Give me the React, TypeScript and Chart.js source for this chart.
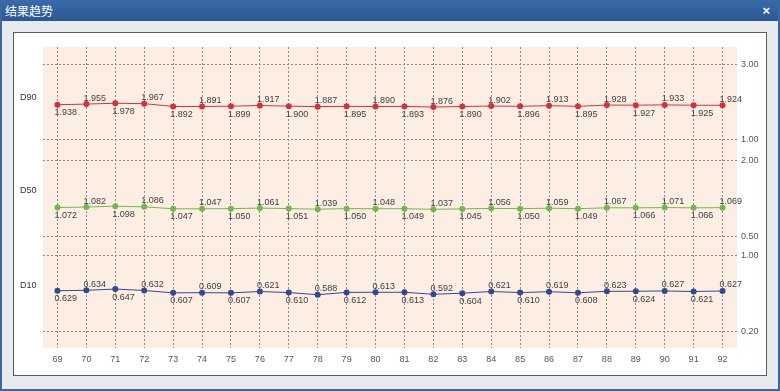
import React, { useEffect, useRef } from "react";
import { Chart, registerables } from "chart.js";

Chart.register(...registerables);

const title = "结果趋势";
const categories = ["69", "70", "71", "72", "73", "74", "75", "76", "77", "78", "79", "80", "81", "82", "83", "84", "85", "86", "87", "88", "89", "90", "91", "92"];
const seriesNames = ["D90", "D50", "D10"];
const d90 = [1.938, 1.955, 1.978, 1.967, 1.892, 1.891, 1.899, 1.917, 1.900, 1.887, 1.895, 1.890, 1.893, 1.876, 1.890, 1.902, 1.896, 1.913, 1.895, 1.928, 1.927, 1.933, 1.925, 1.924];
const d50 = [1.072, 1.082, 1.098, 1.086, 1.047, 1.047, 1.050, 1.061, 1.051, 1.039, 1.050, 1.048, 1.049, 1.037, 1.045, 1.056, 1.050, 1.059, 1.049, 1.067, 1.066, 1.071, 1.066, 1.069];
const d10 = [0.629, 0.634, 0.647, 0.632, 0.607, 0.609, 0.607, 0.621, 0.610, 0.588, 0.612, 0.613, 0.613, 0.592, 0.604, 0.621, 0.610, 0.619, 0.608, 0.623, 0.624, 0.627, 0.621, 0.627];
const d90Ticks = [1, 3];
const d50Ticks = [0.5, 2];
const d10Ticks = [0.2, 1];
const d90Range = [0.8, 3.48];
const d50Range = [0.28, 2.26];
const d10Range = [0.03, 1.08];

const FONT = '"Liberation Sans", Arial, sans-serif';
const nameFrac = [0.5, 0.43, 0.38];

const bgPlugin = {
  id: "peachBg",
  beforeDraw(chart: any) {
    const { ctx, chartArea } = chart;
    ctx.save();
    ctx.fillStyle = "#fdeee4";
    ctx.fillRect(chartArea.left, chartArea.top, chartArea.right - chartArea.left, chartArea.bottom - chartArea.top);
    ctx.restore();
  },
};

const labelPlugin = {
  id: "valueLabels",
  afterDatasetsDraw(chart: any) {
    const ctx = chart.ctx;
    ctx.save();
    ctx.font = `9px ${FONT}`;
    ctx.textAlign = "left";
    ctx.textBaseline = "middle";
    chart.data.datasets.forEach((ds: any, di: number) => {
      const meta = chart.getDatasetMeta(di);
      ctx.fillStyle = "#404040";
      meta.data.forEach((pt: any, i: number) => {
        const v = ds.data[i] as number;
        const dy = i % 2 === 0 ? 8 : -6;
        ctx.fillText(v.toFixed(3), pt.x - 3, pt.y + dy);
      });
      const scale = chart.scales[ds.yAxisID];
      ctx.fillStyle = "#333";
      ctx.fillText(ds.label, 6, scale.top + scale.height * nameFrac[di]);
    });
    ctx.restore();
  },
};

function yAxis(range: number[], ticks: number[]) {
  return {
    type: "linear",
    position: "right",
    stack: "panels",
    stackWeight: 1,
    min: range[0],
    max: range[1],
    afterBuildTicks: (s: any) => {
      s.ticks = ticks.map((v) => ({ value: v }));
    },
    afterFit: (s: any) => {
      s.width = 29;
    },
    grid: { color: "#8c8c8c", lineWidth: 1, drawTicks: false },
    border: { display: false, dash: [2, 2] },
    ticks: {
      padding: 4,
      color: "#555",
      font: { size: 9, family: FONT },
      callback: (v: any) => Number(v).toFixed(2),
    },
  };
}

export default function App() {
  const ref = useRef<HTMLCanvasElement>(null);
  useEffect(() => {
    if (!ref.current) return;
    const mk = (label: string, data: number[], color: string, axis: string) => ({
      label,
      data,
      yAxisID: axis,
      borderColor: color,
      backgroundColor: color,
      borderWidth: 1,
      pointRadius: 3,
      pointBorderWidth: 0,
      tension: 0,
    });
    const chart = new Chart(ref.current, {
      type: "line",
      data: {
        labels: categories,
        datasets: [
          mk(seriesNames[0], d90, "#d82f3a", "yD90"),
          mk(seriesNames[1], d50, "#72b84a", "yD50"),
          mk(seriesNames[2], d10, "#2f4a91", "yD10"),
        ],
      },
      options: {
        animation: false,
        responsive: true,
        maintainAspectRatio: false,
        layout: { padding: { left: 29, top: 14, right: 0, bottom: 0 } },
        plugins: { legend: { display: false }, tooltip: { enabled: false } },
        scales: {
          x: {
            type: "category",
            offset: true,
            afterFit: (s: any) => {
              s.height = 27;
            },
            grid: { offset: false, color: "#8c8c8c", lineWidth: 1, drawTicks: false },
            border: { display: false, dash: [2, 2] },
            ticks: { padding: 6, color: "#555", font: { size: 9, family: FONT }, maxRotation: 0, autoSkip: false },
          },
          yD90: yAxis(d90Range, d90Ticks),
          yD50: yAxis(d50Range, d50Ticks),
          yD10: yAxis(d10Range, d10Ticks),
        } as any,
      },
      plugins: [bgPlugin, labelPlugin],
    } as any);
    return () => chart.destroy();
  }, []);

  return (
    <div style={{ position: "fixed", left: 0, top: 0, width: 780, height: 391, background: "#e7eaef", overflow: "hidden", boxSizing: "border-box", borderLeft: "2px solid #3b67a3", borderRight: "2px solid #3b67a3", borderBottom: "2px solid #3b67a3" }}>
      <div style={{ position: "absolute", left: -2, top: 0, width: 780, height: 21, background: "linear-gradient(#3a6aa9, #2b5894)", color: "#fff", fontFamily: '"Noto Sans CJK SC", sans-serif', fontSize: 12, lineHeight: "21px", paddingLeft: 5, boxSizing: "border-box" }}>
        {title}
        <span style={{ position: "absolute", right: 10, top: 0, fontFamily: FONT, fontSize: 13, fontWeight: "bold" }}>×</span>
      </div>
      <div style={{ position: "absolute", left: 11, top: 32, width: 754, height: 344, boxSizing: "border-box", border: "1px solid #5a5a5a", background: "#fff" }}>
        <div style={{ position: "relative", width: 752, height: 342 }}>
          <canvas ref={ref} />
        </div>
      </div>
    </div>
  );
}
